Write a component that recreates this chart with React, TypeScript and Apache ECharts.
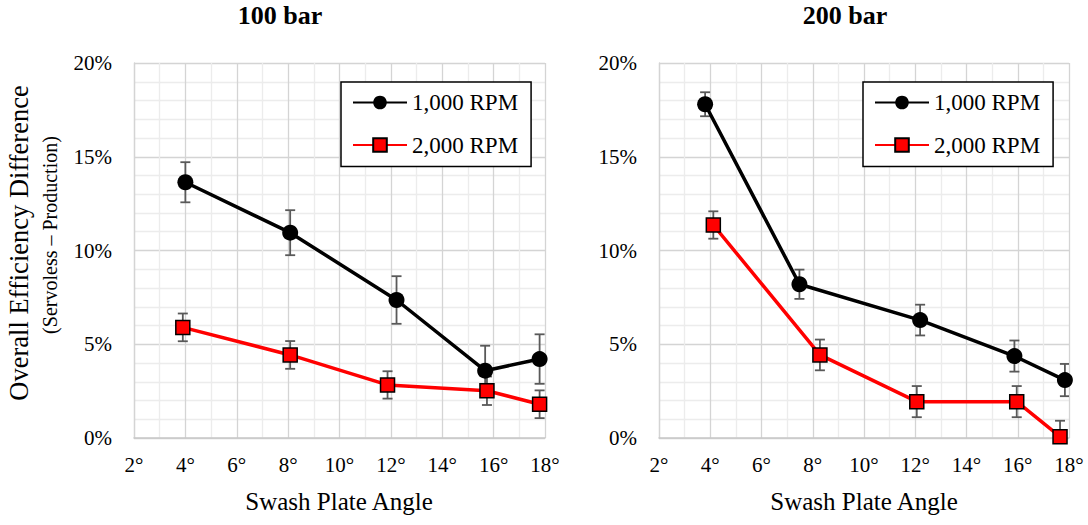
import React, { useEffect, useRef } from "react";
import * as echarts from "echarts";

const FONT = "Times New Roman, Liberation Serif, Tinos, serif";

// 100 bar panel
const angles100Black = [4.0, 8.08, 12.22, 15.67, 17.79];
const eff100Black = [13.64, 10.95, 7.36, 3.59, 4.21];
const err100Black = [1.07, 1.2, 1.27, 1.33, 1.32];
const angles100Red = [3.9, 8.08, 11.87, 15.74, 17.79];
const eff100Red = [5.9, 4.43, 2.83, 2.52, 1.8];
const err100Red = [0.74, 0.74, 0.73, 0.76, 0.74];

// 200 bar panel
const angles200Black = [3.8, 7.48, 12.19, 15.87, 17.84];
const eff200Black = [17.8, 8.2, 6.29, 4.37, 3.09];
const err200Black = [0.64, 0.78, 0.82, 0.83, 0.86];
const angles200Red = [4.12, 8.28, 12.06, 15.96, 17.65];
const eff200Red = [11.36, 4.43, 1.94, 1.94, 0.07];
const err200Red = [0.73, 0.82, 0.83, 0.83, 0.85];

const seriesNames = ["1,000 RPM", "2,000 RPM"];
const panelTitles = ["100 bar", "200 bar"];
const xTitle = "Swash Plate Angle";
const yTitle = "Overall Efficiency Difference";
const ySubTitle = "(Servoless \u2013 Production)";

const pts = (xs: number[], ys: number[]) => xs.map((x, i) => [x, ys[i]]);
const errPts = (xs: number[], ys: number[], es: number[]) =>
  xs.map((x, i) => [x, ys[i], ys[i] - es[i], ys[i] + es[i]]);

const errorRender = (params: any, api: any) => {
  const x = api.value(0);
  const lo = api.coord([x, api.value(2)]);
  const hi = api.coord([x, api.value(3)]);
  const cap = 5;
  const style = { stroke: "#595959", lineWidth: 1.8 };
  return {
    type: "group",
    children: [
      { type: "line", shape: { x1: lo[0], y1: lo[1], x2: hi[0], y2: hi[1] }, style },
      { type: "line", shape: { x1: lo[0] - cap, y1: lo[1], x2: lo[0] + cap, y2: lo[1] }, style },
      { type: "line", shape: { x1: hi[0] - cap, y1: hi[1], x2: hi[0] + cap, y2: hi[1] }, style },
    ],
  };
};

export default function App() {
  const ref = useRef<HTMLDivElement>(null);
  useEffect(() => {
    document.body.style.margin = "0";
    const chart = echarts.init(ref.current!, null, { renderer: "svg" });
    const grids = [
      { left: 134, top: 63, width: 411, height: 375 },
      { left: 659, top: 63, width: 410, height: 375 },
    ];
    const xAxis = grids.map((_, i) => ({
      type: "value",
      gridIndex: i,
      min: 2,
      max: 18,
      interval: 2,
      axisLine: { show: true, lineStyle: { color: "#c8c8c8", width: 1.5 } },
      axisTick: { show: false },
      axisLabel: {
        formatter: "{value}\u00b0",
        color: "#000",
        fontSize: 21,
        fontFamily: FONT,
        margin: 16,
      },
      splitLine: { show: true, lineStyle: { color: "#d4d4d4", width: 1.3 } },
      minorTick: { show: false, splitNumber: 2 },
      minorSplitLine: { show: true, lineStyle: { color: "#ececec", width: 1.3 } },
    }));
    const yAxis = grids.map((_, i) => ({
      type: "value",
      gridIndex: i,
      min: 0,
      max: 20,
      interval: 5,
      axisLine: { show: true, lineStyle: { color: "#d4d4d4", width: 1.3 } },
      axisTick: { show: false },
      axisLabel: {
        formatter: "{value}%",
        color: "#000",
        fontSize: 21,
        fontFamily: FONT,
        margin: 22,
      },
      splitLine: { show: true, lineStyle: { color: "#d4d4d4", width: 1.3 } },
      minorTick: { show: false, splitNumber: 5 },
      minorSplitLine: { show: true, lineStyle: { color: "#ececec", width: 1.3 } },
    }));

    const black = (i: number, xs: number[], ys: number[]) => ({
      type: "line",
      name: seriesNames[0],
      xAxisIndex: i,
      yAxisIndex: i,
      data: pts(xs, ys),
      symbol: "circle",
      symbolSize: 16,
      z: 5,
      lineStyle: { color: "#000", width: 3.5 },
      itemStyle: { color: "#000" },
    });
    const red = (i: number, xs: number[], ys: number[]) => ({
      type: "line",
      name: seriesNames[1],
      xAxisIndex: i,
      yAxisIndex: i,
      data: pts(xs, ys),
      symbol: "rect",
      symbolSize: 14,
      z: 4,
      lineStyle: { color: "#ff0000", width: 3.5 },
      itemStyle: { color: "#ff0000", borderColor: "#000", borderWidth: 1.5 },
    });
    const err = (i: number, xs: number[], ys: number[], es: number[]) => ({
      type: "custom",
      xAxisIndex: i,
      yAxisIndex: i,
      data: errPts(xs, ys, es),
      renderItem: errorRender,
      clip: true,
      z: 3,
      silent: true,
    });

    const legend = (left: number) => ({
      orient: "vertical",
      left,
      top: 82,
      data: seriesNames,
      backgroundColor: "#fff",
      borderColor: "#000",
      borderWidth: 1.5,
      padding: [9, 13, 10, 11],
      itemGap: 19.5,
      itemWidth: 54,
      itemHeight: 17,
      textStyle: { color: "#000", fontSize: 23, fontFamily: FONT },
    });

    const text = (x: number, y: number, t: string, size: number, opts: any = {}) => ({
      type: "text",
      x,
      y,
      ...opts,
      style: {
        text: t,
        fontSize: size,
        fontFamily: FONT,
        fill: "#000",
        textAlign: "center",
        textVerticalAlign: "middle",
        ...(opts.style || {}),
      },
    });

    chart.setOption({
      animation: false,
      textStyle: { fontFamily: FONT },
      grid: grids,
      xAxis,
      yAxis,
      legend: [legend(341), legend(863)],
      series: [
        err(0, angles100Black, eff100Black, err100Black),
        err(0, angles100Red, eff100Red, err100Red),
        black(0, angles100Black, eff100Black),
        red(0, angles100Red, eff100Red),
        err(1, angles200Black, eff200Black, err200Black),
        err(1, angles200Red, eff200Red, err200Red),
        black(1, angles200Black, eff200Black),
        red(1, angles200Red, eff200Red),
      ],
      graphic: [
        text(280, 15, panelTitles[0], 26, { style: { fontWeight: "bold" } }),
        text(845, 15, panelTitles[1], 26, { style: { fontWeight: "bold" } }),
        text(339, 501, xTitle, 25),
        text(864, 501, xTitle, 25),
        text(19, 243, yTitle, 26.5, { rotation: Math.PI / 2 }),
        text(50, 235, ySubTitle, 20, { rotation: Math.PI / 2 }),
      ],
    });
    return () => chart.dispose();
  }, []);
  return <div ref={ref} style={{ width: 1088, height: 525 }} />;
}
